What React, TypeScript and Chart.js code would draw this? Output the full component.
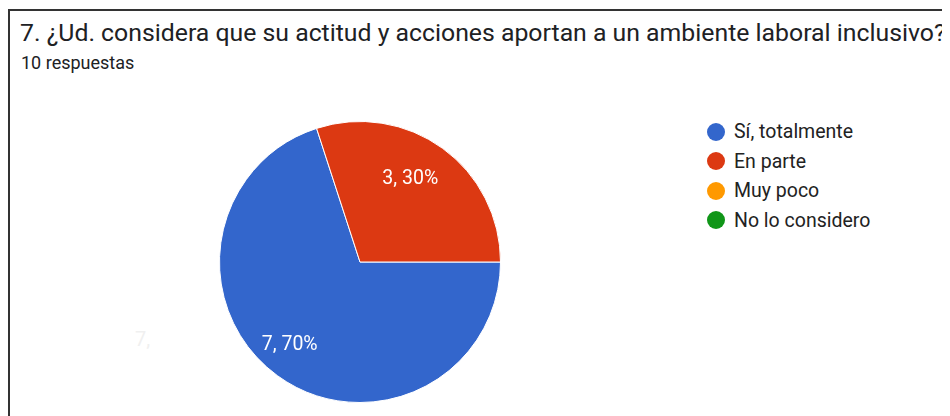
import React, { useEffect, useRef } from "react";
import { Chart, registerables } from "chart.js";

Chart.register(...registerables);

const title = "7. ¿Ud. considera que su actitud y acciones aportan a un ambiente laboral inclusivo?";
const subtitle = "10 respuestas";
const categories = ["Sí, totalmente", "En parte", "Muy poco", "No lo considero"];
const counts = [7, 3, 0, 0];
const colors = ["#3366cc", "#dc3912", "#ff9900", "#109618"];

const labelPlugin = {
  id: "sliceLabels",
  afterDatasetsDraw(chart: any) {
    const { ctx } = chart;
    const meta = chart.getDatasetMeta(0);
    const total = counts.reduce((a, b) => a + b, 0);
    ctx.save();
    ctx.fillStyle = "#ffffff";
    ctx.font = "19.5px Roboto";
    ctx.textAlign = "center";
    ctx.textBaseline = "middle";
    meta.data.forEach((arc: any, i: number) => {
      const v = counts[i];
      if (!v) return;
      const mid = (arc.startAngle + arc.endAngle) / 2;
      const r = arc.outerRadius * 0.73;
      const x = arc.x + Math.cos(mid) * r - 10;
      const y = arc.y + Math.sin(mid) * r;
      const pct = Math.round((v / total) * 100);
      ctx.fillText(`${v}, ${pct}%`, x, y);
    });
    ctx.restore();
  },
};

export default function App() {
  const ref = useRef<HTMLCanvasElement>(null);
  useEffect(() => {
    if (!ref.current) return;
    const chart = new Chart(ref.current, {
      type: "pie",
      data: {
        labels: categories,
        datasets: [
          {
            data: counts,
            backgroundColor: colors,
            borderColor: "#ffffff",
            borderWidth: 1,
          },
        ],
      },
      options: {
        animation: false,
        responsive: false,
        rotation: 90,
        layout: { padding: 0 },
        plugins: { legend: { display: false }, tooltip: { enabled: false } },
      },
      plugins: [labelPlugin],
    });
    return () => chart.destroy();
  }, []);

  return (
    <div
      style={{
        position: "relative",
        marginTop: 1,
        height: 405,
        width: 940,
        overflow: "hidden",
        borderLeft: "2px solid #333",
        borderTop: "2px solid #333",
        fontFamily: "Roboto, sans-serif",
        color: "#202124",
      }}
    >
      <div style={{ position: "absolute", left: 10, top: 7, fontSize: 24.8, whiteSpace: "nowrap" }}>{title}</div>
      <div style={{ position: "absolute", left: 11, top: 41, fontSize: 18, whiteSpace: "nowrap" }}>{subtitle}</div>
      <canvas
        ref={ref}
        width={282}
        height={282}
        style={{ position: "absolute", left: 219 - 10, top: 121 - 11, width: 282, height: 282 }}
      />
      <div style={{ position: "absolute", left: 125, top: 316, fontSize: 20, color: "#f0f0f0" }}>7,</div>
      <div style={{ position: "absolute", left: 697, top: 106 }}>
        {categories.map((c, i) => (
          <div key={c} style={{ display: "flex", alignItems: "center", height: 29.5 }}>
            <span
              style={{
                display: "inline-block",
                width: 18,
                height: 18,
                borderRadius: 9,
                background: colors[i],
                marginRight: 9,
              }}
            />
            <span style={{ fontSize: 19.5, color: "#222" }}>{c}</span>
          </div>
        ))}
      </div>
    </div>
  );
}
